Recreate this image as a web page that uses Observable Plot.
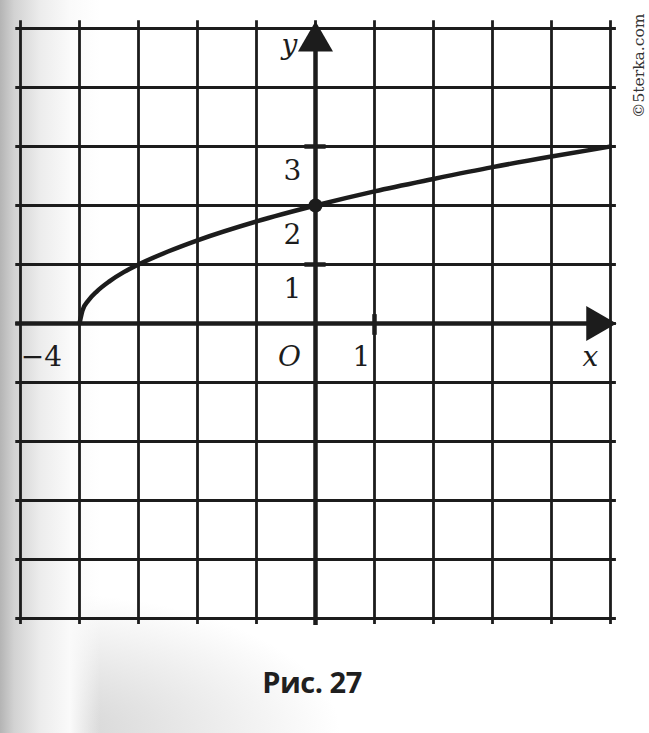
<!DOCTYPE html>
<html>
<head>
<meta charset="utf-8">
<script src="https://cdn.jsdelivr.net/npm/d3@7"></script>
<script src="https://cdn.jsdelivr.net/npm/@observablehq/plot@0.6"></script>
<style>
  html, body { margin: 0; padding: 0; background: #fff; }
  #page {
    position: relative; width: 649px; height: 733px; overflow: hidden;
    background:
      linear-gradient(to right, #b4b4b4 0px, #d2d2d2 14px, #ececec 40px, #fafafa 70px, rgba(255,255,255,0) 100px),
      radial-gradient(ellipse 300px 140px at 40px 733px, rgba(205,205,205,0.9), rgba(255,255,255,0));
  }
  #chart { position: absolute; left: 0; top: 0; }
  #caption {
    position: absolute; left: 212px; width: 200px; top: 662px; text-align: center;
    font-family: "Open Sans", sans-serif; font-weight: 700; font-size: 29px; color: #1f1f1f;
    letter-spacing: -0.5px;
  }
  #wm {
    position: absolute; left: 630px; top: 118px; transform-origin: 0 0; transform: rotate(-90deg);
    font-family: "DejaVu Serif", serif; font-size: 15.5px; color: #333; white-space: nowrap;
  }
</style>
</head>
<body>
<div id="page">
  <div id="chart"></div>
  <div id="caption">Рис. 27</div>
  <div id="wm">©5terka.com</div>
</div>
<script>
// grid values
const gridX = [-5, -4, -3, -2, -1, 0, 1, 2, 3, 4, 5];
const gridY = [-5, -4, -3, -2, -1, 0, 1, 2, 3, 4, 5];
// curve points
const curveX = [-4, -3.95, -3.85, -3.7, -3.5, -3.25, -3, -2.5, -2, -1, 0, 1, 2, 3, 4, 5];
const curveY = [0, 0.22, 0.39, 0.55, 0.71, 0.87, 1, 1.22, 1.41, 1.73, 2, 2.24, 2.45, 2.65, 2.83, 3];
// marked point
const pointX = [0];
const pointY = [2];
// tick marks
const yTicks = [1, 3];
const xTicks = [1];
// labels
const xLabels = ["−4", "O", "1", "x"];
const xLabelPos = [-4, 0, 1, 5];
const yLabels = ["1", "2", "3"];
const yLabelPos = [1, 2, 3];
const axisNames = ["y"];

const curve = curveX.map((x, i) => ({x, y: curveY[i]}));
const pts = pointX.map((x, i) => ({x, y: pointY[i]}));
const ink = "#1c1c1c";
const serif = "'DejaVu Serif', 'Liberation Serif', serif";

const xl = xLabels.map((t, i) => ({t, x: xLabelPos[i], y: 0}));
const yl = yLabels.map((t, i) => ({t, x: 0, y: yLabelPos[i]}));
const xlDx = [-38, -26, -13, -20];
const ylDy = [25, 30, 25];

const labelMarks = [];
xl.forEach((d, i) => labelMarks.push(Plot.text([d], {x: "x", y: "y", text: "t", dx: xlDx[i], dy: 34,
  fontSize: 28, fontFamily: serif, fill: ink, fontStyle: (d.t === "x" || d.t === "O") ? "italic" : "normal"})));
yl.forEach((d, i) => labelMarks.push(Plot.text([d], {x: "x", y: "y", text: "t", dx: -23, dy: ylDy[i],
  fontSize: 28, fontFamily: serif, fill: ink})));
labelMarks.push(Plot.text([{t: axisNames[0], x: 0, y: 5}], {x: "x", y: "y", text: "t", dx: -26, dy: 17,
  fontSize: 28, fontFamily: serif, fill: ink, fontStyle: "italic"}));

const chart = Plot.plot({
  width: 649,
  height: 650,
  marginLeft: 20,
  marginRight: 39,
  marginTop: 28,
  marginBottom: 32,
  style: {background: "transparent", overflow: "visible"},
  x: {domain: [-5, 5], axis: null},
  y: {domain: [-5, 5], axis: null},
  marks: [
    Plot.ruleX(gridX, {y1: -5.1, y2: 5.13, stroke: ink, strokeWidth: 2.8}),
    Plot.ruleY(gridY, {x1: -5.08, x2: 5.1, stroke: ink, strokeWidth: 2.8}),
    Plot.ruleY([0], {x1: -5.08, x2: 4.7, stroke: ink, strokeWidth: 4.5}),
    Plot.ruleX([0], {y1: -5.12, y2: 4.7, stroke: ink, strokeWidth: 4.5}),
    Plot.dot([{x: 4.76, y: 0}], {x: "x", y: "y", symbol: "triangle", r: 13, fill: ink, stroke: "none", rotate: 90}),
    Plot.dot([{x: 0, y: 4.78}], {x: "x", y: "y", symbol: "triangle", r: 13, fill: ink, stroke: "none"}),
    Plot.ruleY(yTicks, {x1: -0.18, x2: 0.18, stroke: ink, strokeWidth: 4.5}),
    Plot.ruleX(xTicks, {y1: -0.2, y2: 0.15, stroke: ink, strokeWidth: 4.5}),
    Plot.line(curve, {x: "x", y: "y", stroke: ink, strokeWidth: 4.5, curve: "monotone-x"}),
    Plot.dot(pts, {x: "x", y: "y", r: 7, fill: ink, stroke: "none"}),
    ...labelMarks
  ]
});
document.getElementById("chart").append(chart);
</script>
</body>
</html>
